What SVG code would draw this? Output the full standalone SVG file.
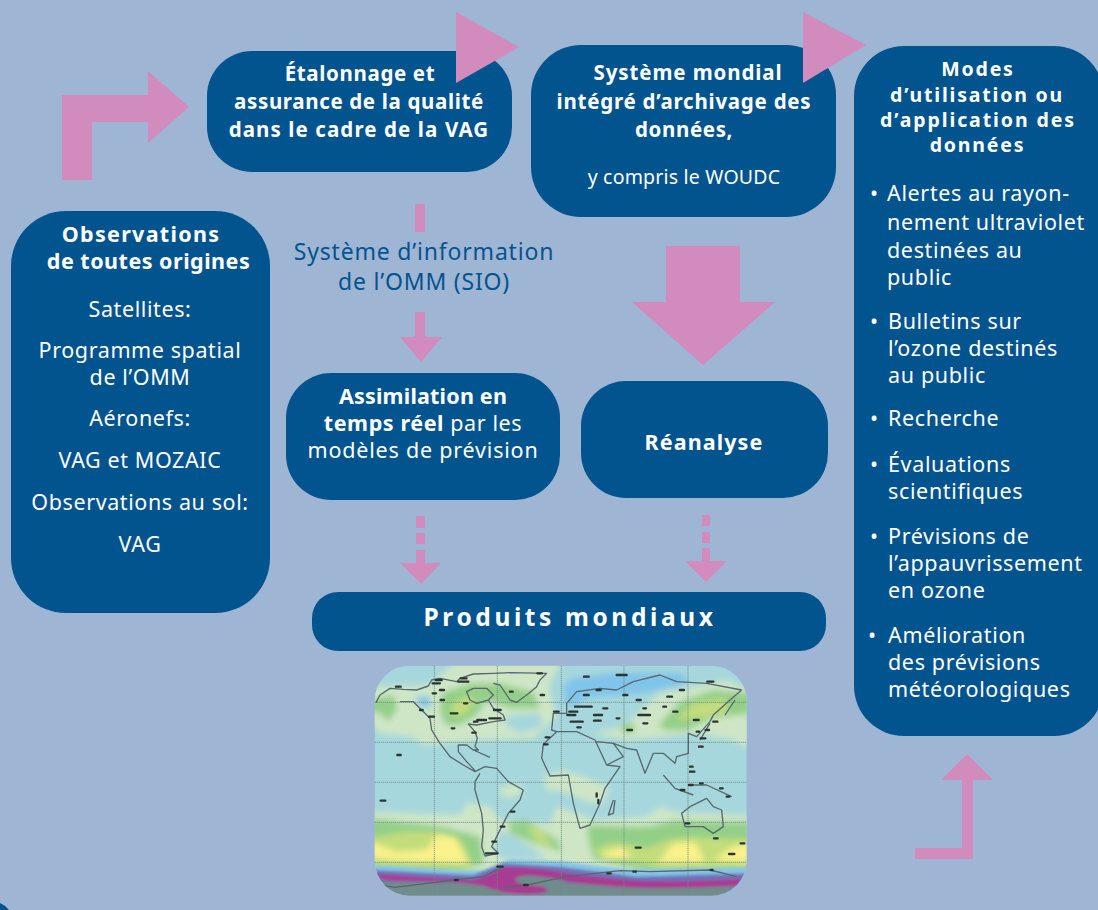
<svg xmlns="http://www.w3.org/2000/svg" width="1098" height="910" viewBox="0 0 1098 910">
<style>
.box{fill:#02548f}
.arr{fill:#d28bbd}
text{font-family:"Noto Sans","Open Sans","Liberation Sans",sans-serif;font-size:21.5px;fill:#fff;text-anchor:middle;letter-spacing:.6px}
.b{font-weight:700}
.t{font-size:20.5px;letter-spacing:.65px}
.l{text-anchor:start;letter-spacing:.65px}
.m{font-size:19.5px;font-weight:700;letter-spacing:1.8px}
.coast{fill:none;stroke:#56686c;stroke-width:4;stroke-linejoin:round}
.ink{fill:none;stroke:#2a3433;stroke-width:7;stroke-linecap:round}
.grid{fill:none;stroke:#6d8888;stroke-width:2.4;stroke-dasharray:4 2}
</style>
<defs>
<clipPath id="mapclip"><rect x="44" y="47" width="1116" height="690" rx="105"/></clipPath>
<filter id="soft" x="-5%" y="-5%" width="110%" height="110%"><feGaussianBlur stdDeviation="9"/></filter>
<filter id="softer" x="-5%" y="-5%" width="110%" height="110%"><feGaussianBlur stdDeviation="4"/></filter>
<filter id="fine" x="-2%" y="-2%" width="104%" height="104%"><feGaussianBlur stdDeviation="1.8"/></filter>
</defs>
<rect width="1098" height="910" fill="#9fb5d4"/>
<path d="M0 903Q5 905 9 910H0Z" fill="#02548f"/>
<g id="connectors">
<path class="arr" d="M62 180V95H148V71L189 107L148 143V122H92V180Z"/>
<path class="arr" d="M666 246H740V302H775L703 365L632 302H666Z"/>
<rect class="arr" x="415" y="204" width="10" height="28"/>
<path class="arr" d="M415 312H425V337H442L421 362L400 337H415Z"/>
<path class="arr" d="M416 516H425V528H416ZM416 533H425V544H416ZM416 550H425V563H441L421 584L400 563H416Z"/>
<path class="arr" d="M702 515H710V526H702ZM702 532H710V543H702ZM702 548H710V561H727L706 582L685 561H702Z"/>
<path class="arr" d="M962 780H941L967 754L993 780H973V859H915V848H962Z"/>
</g>
<g id="node-observations">
<rect class="box" x="11" y="211" width="259" height="402" rx="55"/>
<text class="b" style="letter-spacing:1.3px" x="141" y="242">Observations</text>
<text class="b" style="letter-spacing:.5px" x="148.500" y="269">de toutes origines</text>
<text x="140" y="317">Satellites:</text>
<text x="140" y="358">Programme spatial</text>
<text x="140" y="385">de l’OMM</text>
<text x="140" y="426">Aéronefs:</text>
<text x="140" y="468">VAG et MOZAIC</text>
<text x="140" y="510">Observations au sol:</text>
<text x="140" y="552">VAG</text>
</g>
<g id="node-etalonnage">
<rect class="box" x="207" y="51" width="305" height="121" rx="45"/>
<text class="b t" x="360" y="81">Étalonnage et</text>
<text class="b t" x="359" y="109">assurance de la qualité</text>
<text class="b t" style="letter-spacing:1.1px" x="359" y="137">dans le cadre de la VAG</text>
</g>
<g id="node-systeme">
<rect class="box" x="531" y="45" width="305" height="172" rx="50"/>
<text class="b t" style="letter-spacing:.9px" x="688" y="80">Système mondial</text>
<text class="b t" style="letter-spacing:.75px" x="684" y="109">intégré d’archivage des</text>
<text class="b t" x="684" y="137">données,</text>
<text x="684" y="184" style="font-size:19.5px;letter-spacing:.2px">y compris le WOUDC</text>
</g>
<g id="node-modes">
<rect class="box" x="854" y="46" width="250" height="690" rx="50"/>
<text class="m" x="978" y="76">Modes</text>
<text class="m" x="977" y="102">d’utilisation ou</text>
<text class="m" style="letter-spacing:1.9px" x="978" y="127">d’application des</text>
<text class="m" x="977.500" y="152">données</text>
<text class="l" x="870" y="201">•</text><text class="l" x="887" y="201">Alertes au rayon-</text>
<text class="l" x="887" y="230">nement ultraviolet</text>
<text class="l" x="887" y="258">destinées au</text>
<text class="l" x="887" y="285">public</text>
<text class="l" x="870" y="329">•</text><text class="l" x="888" y="329">Bulletins sur</text>
<text class="l" x="888" y="356">l’ozone destinés</text>
<text class="l" x="888" y="383">au public</text>
<text class="l" x="870" y="426">•</text><text class="l" x="888" y="426">Recherche</text>
<text class="l" x="870" y="472">•</text><text class="l" x="888" y="472">Évaluations</text>
<text class="l" x="888" y="499">scientifiques</text>
<text class="l" x="870" y="544">•</text><text class="l" x="888" y="544">Prévisions de</text>
<text class="l" x="888" y="571">l’appauvrissement</text>
<text class="l" x="888" y="598">en ozone</text>
<text class="l" x="868" y="643">•</text><text class="l" x="888" y="643">Amélioration</text>
<text class="l" x="888" y="670">des prévisions</text>
<text class="l" x="888" y="697">météorologiques</text>
</g>
<g id="label-sio">
<text x="424" y="260" style="fill:#02548f;font-size:23px;letter-spacing:.8px">Système d’information</text>
<text x="424" y="290" style="fill:#02548f;font-size:23px;letter-spacing:.8px">de l’OMM (SIO)</text>
</g>
<g id="node-assimilation">
<rect class="box" x="286" y="373" width="274" height="127" rx="45"/>
<text class="b" style="letter-spacing:.2px" x="423" y="404">Assimilation en</text>
<text x="423" y="431"><tspan class="b">temps réel</tspan> par les</text>
<text x="423" y="458" style="letter-spacing:.8px">modèles de prévision</text>
</g>
<g id="node-reanalyse">
<rect class="box" x="581" y="381" width="247" height="117" rx="45"/>
<text class="b" style="letter-spacing:1.1px" x="704" y="450">Réanalyse</text>
</g>
<g id="node-produits">
<rect class="box" x="312" y="592" width="514" height="59" rx="26"/>
<text class="b" x="570" y="626" style="font-size:24.5px;letter-spacing:3.6px">Produits mondiaux</text>
</g>
<g id="map" transform="translate(360 650) scale(.33333)">
<g clip-path="url(#mapclip)">
<rect x="44" y="47" width="1116" height="690" fill="#a6d7dc"/>
<g filter="url(#soft)">
<path fill="#cfe6c6" d="M280 40H600L565 110L590 200L520 265L350 270L190 285L160 260L60 250L30 220V110L210 105Z"/>
<path fill="#a6d7dc" d="M440 195L540 190L550 230L480 250L435 225Z"/>
<path fill="#cfe6c6" d="M790 230L900 130L1100 90L1170 120V300L1120 270L1000 250L900 260L800 270L700 250Z"/>
<path fill="#7fc4ea" d="M610 110L640 85L760 70L960 70L990 100L850 130L700 140L620 170Z"/>
<path fill="#7fc4ea" d="M165 145L205 135L215 175L180 170Z"/>
<path fill="#93cf88" d="M245 130L330 100L420 100L520 125L540 175L450 175L380 150L350 195L300 225L255 225L240 180Z"/>
<path fill="#c3dd7a" d="M280 160L330 135L345 160L310 195L270 195Z"/>
<path fill="#93cf88" d="M30 150L100 135L112 175L85 215L60 190L30 185Z"/>
<path fill="#93cf88" d="M895 225L960 155L1060 120L1170 130V190L1060 205L980 240L915 240Z"/>
<path fill="#c3dd7a" d="M945 210L1000 160L1095 145L1105 185L1020 205Z"/>
<path fill="#93cf88" d="M785 222L825 222L820 248L785 248Z"/>
<path fill="#cfe6c6" d="M550 380L610 360L680 385L750 410L730 460L680 455L620 425L560 420Z"/>
<path fill="#cfe6c6" d="M420 410L470 400L495 425L450 445L420 435Z"/>
<path fill="#cfe6c6" d="M30 485L300 495L320 460L390 470L420 510L570 520L590 470L650 490L700 510L860 500L900 470L960 490L1170 495V680H30Z"/>
<path fill="#a6d7dc" d="M420 540L470 560L560 625L480 630L430 630L400 600Z"/>
<path fill="#93cf88" d="M30 505L250 530L360 560L372 640L300 668L30 655Z"/>
<path fill="#93cf88" d="M445 518L500 512L595 570L605 605L520 578L450 548Z"/>
<path fill="#93cf88" d="M680 525L860 530L940 512L1170 517V665L860 665L700 628L690 590Z"/>
<path fill="#c3dd7a" d="M30 565L130 545L240 545L310 580L340 652L240 648L30 645Z"/>
<path fill="#c3dd7a" d="M500 535L540 535L580 592L530 572Z"/>
<path fill="#c3dd7a" d="M700 600L760 578L860 595L930 568L1010 562L1170 568V655L900 655L800 628L720 622Z"/>
<path fill="#fbf28b" d="M30 575L110 605L200 600L230 555L285 560L325 640L190 635L100 630L30 622Z"/>
<path fill="#fbf28b" d="M725 608L790 592L815 625L740 625Z"/>
<path fill="#fbf28b" d="M895 635L940 580L1005 575L1035 635Z"/>
<path fill="#fbf28b" d="M1060 630L1120 590L1170 580V635Z"/>
</g>
<g filter="url(#softer)">
<path fill="#84c4e6" d="M30 645L300 662L370 660L450 628L600 634L800 658L1170 652V750H30Z"/>
<path fill="#6f71b6" d="M30 660L340 676L430 640L600 650L830 680L1170 670V750H30Z"/>
<path fill="#6f8c8c" d="M30 696L1170 704V750H30Z"/>
<path fill="#6f8c8c" d="M450 705L480 675L620 685V725H450Z"/>
<path fill="#a83b93" d="M40 672Q200 682 340 690Q390 675 430 650Q520 652 600 665Q720 685 850 693Q1000 696 1170 684V706Q1000 716 850 714Q720 708 620 695Q560 680 510 676Q465 678 465 690Q475 705 540 708Q575 716 555 728Q500 738 430 727Q390 716 370 708Q300 696 250 696L100 692Q75 690 60 684Z"/>
</g>
<g filter="url(#fine)">
<path class="grid" d="M223 47V737M412 47V737M604 47V737M792 47V737M984 47V737M44 157H1160M44 277H1160M44 397H1160M44 517H1160M44 637H1160"/>
<path class="coast" d="M48 158L60 135L90 115L130 118L170 120L205 108L215 90L240 85L290 95L300 85L340 72L400 70L450 68L560 70L540 90L530 110L500 135L470 157L450 150L430 120L420 105L400 100M320 125L340 115L380 115L400 135L385 150L350 160L330 150ZM385 150L400 175L430 195L435 210L400 215L350 225L325 222L345 245L352 265L345 290L355 300L340 300L320 285L295 285L295 305L320 335L345 362M120 155L160 155L185 180L210 205L215 240L240 280L270 320L310 345L345 365M340 300L390 322M345 365L375 350L410 355L445 395L490 420L480 450L445 490L430 520L410 560L395 590L415 610L375 618L365 590L370 540L365 490L345 420L345 395L360 370"/>
<path class="coast" d="M550 283L590 245L650 245L705 270L740 345L780 350L735 415L720 460L690 525L660 535L640 460L625 375L570 378L545 325ZM710 275L760 280L790 320L740 345M760 280L800 295L830 300L855 370L880 310L910 310L945 340L950 320L985 310L985 250L1010 260L1050 215L1060 195L1110 150L1145 120M620 160L650 125L720 115L770 120L820 95L900 75L950 95L1040 100L1145 120M620 160L620 190L580 190L575 240L590 245M1095 195L1125 150M1020 270L1050 220M760 450L745 495L760 490L765 450M965 490L990 470L1040 445L1060 470L1085 480L1090 530L1060 550L1030 530L975 530ZM910 375L945 415L1000 435M1000 405L1040 405L1115 440M60 705L105 712L280 690L370 680L430 650M430 712L500 705L620 680L780 662L870 665L1050 660L1130 680"/>
<path class="ink" d="M108 110H122M228 90H245M218 100H240M295 95H325M302 85H320M240 120H252M218 130H228M312 160H322M272 190H292M242 150H252M275 235H283M337 248H347M342 215H352M388 205H422M352 210H378M402 180H422M532 70H546M542 135H552M450 125H458M180 180H188M207 200H222M112 315H122M62 452H76M770 75H800M672 80H686M710 120H722M672 135H686M790 135H802M830 150H842M645 170H695M628 185H652M850 175H858M910 170H918M940 185H952M835 195H870M850 220H862M730 175H742M582 185H596M622 195H646M702 195H726M632 215H668M702 212H722M770 205H778M652 232H662M557 262H568M552 283H563M922 140H936M960 120H972M1042 95H1060M802 240H816M1002 210H1016M1010 245H1018M1060 215H1072M1022 265H1036M1037 240H1047M1017 290H1028M990 350H998M990 365H1003M987 405H998M1020 400H1028M962 420H973M1080 415H1088M1100 440H1108M452 485H463M422 530H433M397 575H408M378 610H412M827 593H842M1142 580H1153M1107 612H1123M1062 565H1073M710 430V440M715 450V460M977 520H988M742 670H752M820 665H828M1052 660H1058M412 650H428M285 690H293M492 705H503"/>
</g>
</g>
</g>
<g id="triangles">
<path class="arr" d="M456 12L519 47L456 83Z"/>
<path class="arr" d="M803 12L866 45L803 83Z"/>
</g>
</svg>
